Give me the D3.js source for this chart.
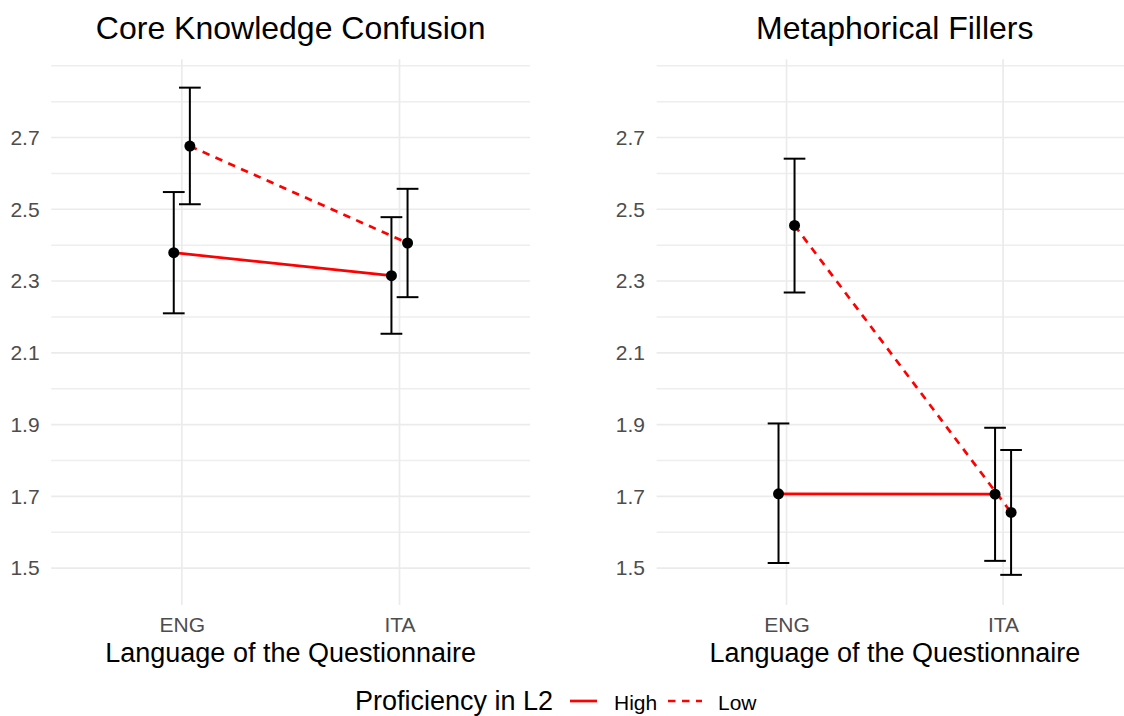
<!DOCTYPE html>
<html>
<head>
<meta charset="utf-8">
<script src="https://cdn.jsdelivr.net/npm/d3@7"></script>
<style>
  html, body { margin: 0; padding: 0; background: #fff; }
  text { font-family: "Liberation Sans", Arial, sans-serif; }
</style>
</head>
<body>
<script>
// ---------- data ----------
const panelTitles = ["Core Knowledge Confusion", "Metaphorical Fillers"];
const languages = ["ENG", "ITA"];
const proficiency = ["High", "Low"];

// Core Knowledge Confusion
const coreHighMean  = [2.379, 2.315];
const coreHighLower = [2.210, 2.153];
const coreHighUpper = [2.548, 2.478];
const coreLowMean   = [2.676, 2.406];
const coreLowLower  = [2.514, 2.255];
const coreLowUpper  = [2.839, 2.557];

// Metaphorical Fillers
const metHighMean  = [1.707, 1.706];
const metHighLower = [1.514, 1.520];
const metHighUpper = [1.903, 1.891];
const metLowMean   = [2.455, 1.655];
const metLowLower  = [2.268, 1.481];
const metLowUpper  = [2.641, 1.829];

const yTickValues  = [1.5, 1.7, 1.9, 2.1, 2.3, 2.5, 2.7];
const yMinorValues = [1.6, 1.8, 2.0, 2.2, 2.4, 2.6, 2.8, 2.9];

const xAxisTitle = "Language of the Questionnaire";
const legendTitle = "Proficiency in L2";

// ---------- build ----------
const panelData = [
  { title: panelTitles[0], series: [
    { prof: proficiency[0], mean: coreHighMean, lower: coreHighLower, upper: coreHighUpper },
    { prof: proficiency[1], mean: coreLowMean,  lower: coreLowLower,  upper: coreLowUpper }
  ]},
  { title: panelTitles[1], series: [
    { prof: proficiency[0], mean: metHighMean, lower: metHighLower, upper: metHighUpper },
    { prof: proficiency[1], mean: metLowMean,  lower: metLowLower,  upper: metLowUpper }
  ]}
];

const W = 1124, H = 716;
const svg = d3.select("body").append("svg")
  .attr("width", W).attr("height", H)
  .style("display", "block");
svg.append("rect").attr("width", W).attr("height", H).attr("fill", "#fff");

const panelBoxes = [{ x0: 51.2, x1: 530.1 }, { x0: 656.6, x1: 1133 }];
const yTop = 59.3, yBot = 605;
const y = d3.scaleLinear().domain([1.397, 2.918]).range([yBot, yTop]);

const dodge = 0.037, capHalf = 0.05;
const dashPattern = { High: null, Low: "7.5,6.5" };
const red = "#ff0000";

panelData.forEach((panel, pi) => {
  const box = panelBoxes[pi];
  const x = d3.scaleLinear().domain([0.4, 2.6]).range([box.x0, box.x1]);
  const g = svg.append("g");

  // grid
  g.selectAll(".minor").data(yMinorValues).join("line")
    .attr("x1", box.x0).attr("x2", box.x1)
    .attr("y1", d => y(d)).attr("y2", d => y(d))
    .attr("stroke", "#eeeeee").attr("stroke-width", 1.5);
  g.selectAll(".major").data(yTickValues).join("line")
    .attr("x1", box.x0).attr("x2", box.x1)
    .attr("y1", d => y(d)).attr("y2", d => y(d))
    .attr("stroke", "#ebebeb").attr("stroke-width", 1.7);
  g.selectAll(".vgrid").data([1, 2]).join("line")
    .attr("x1", d => x(d)).attr("x2", d => x(d))
    .attr("y1", yTop).attr("y2", yBot)
    .attr("stroke", "#ebebeb").attr("stroke-width", 1.7);

  // axes
  const yAxis = g.append("g").attr("transform", `translate(${box.x0},0)`)
    .call(d3.axisLeft(y).tickValues(yTickValues).tickFormat(d3.format(".1f")).tickSize(0).tickPadding(11.6));
  yAxis.select(".domain").remove();
  yAxis.selectAll("text").attr("font-size", 21).attr("fill", "#4d4d4d")
    .style("font-family", '"Liberation Sans", Arial, sans-serif');

  const xAxis = g.append("g").attr("transform", `translate(0,${yBot})`)
    .call(d3.axisBottom(x).tickValues([1, 2]).tickFormat(d => languages[d - 1]).tickSize(0).tickPadding(11.7));
  xAxis.select(".domain").remove();
  xAxis.selectAll("text").attr("font-size", 21).attr("fill", "#4d4d4d")
    .style("font-family", '"Liberation Sans", Arial, sans-serif');

  // titles
  const cx = (box.x0 + box.x1) / 2;
  g.append("text").attr("x", cx).attr("y", 39).attr("text-anchor", "middle")
    .attr("font-size", 32).attr("fill", "#000").text(panel.title);
  g.append("text").attr("x", cx).attr("y", 662).attr("text-anchor", "middle")
    .attr("font-size", 27).attr("fill", "#000").text(xAxisTitle);

  // marks
  panel.series.forEach((s, si) => {
    const off = si === 0 ? -dodge : dodge;
    const pts = s.mean.map((m, j) => ({ xi: j + 1 + off, m, lo: s.lower[j], hi: s.upper[j] }));
    g.append("path").datum(pts)
      .attr("d", d3.line().x(d => x(d.xi)).y(d => y(d.m)))
      .attr("fill", "none").attr("stroke", red).attr("stroke-width", 2.7)
      .attr("stroke-dasharray", dashPattern[s.prof]);
  });
  panel.series.forEach((s, si) => {
    const off = si === 0 ? -dodge : dodge;
    const pts = s.mean.map((m, j) => ({ xi: j + 1 + off, m, lo: s.lower[j], hi: s.upper[j] }));
    const eb = g.append("g").attr("stroke", "#000").attr("stroke-width", 2).attr("fill", "none");
    eb.selectAll(".v").data(pts).join("line")
      .attr("x1", d => x(d.xi)).attr("x2", d => x(d.xi))
      .attr("y1", d => y(d.lo)).attr("y2", d => y(d.hi));
    eb.selectAll(".ct").data(pts).join("line")
      .attr("x1", d => x(d.xi - capHalf)).attr("x2", d => x(d.xi + capHalf))
      .attr("y1", d => y(d.hi)).attr("y2", d => y(d.hi));
    eb.selectAll(".cb").data(pts).join("line")
      .attr("x1", d => x(d.xi - capHalf)).attr("x2", d => x(d.xi + capHalf))
      .attr("y1", d => y(d.lo)).attr("y2", d => y(d.lo));
    g.selectAll(null).data(pts).join("circle")
      .attr("cx", d => x(d.xi)).attr("cy", d => y(d.m)).attr("r", 5.5).attr("fill", "#000");
  });
});

// legend
const lg = svg.append("g");
lg.append("text").attr("x", 355).attr("y", 709.5).attr("font-size", 27).attr("fill", "#000").text(legendTitle);
const legendItems = [
  { prof: proficiency[0], lx0: 570, lx1: 597, tx: 614 },
  { prof: proficiency[1], lx0: 668, lx1: 702, tx: 718 }
];
legendItems.forEach(it => {
  lg.append("line").attr("x1", it.lx0).attr("x2", it.lx1).attr("y1", 701).attr("y2", 701)
    .attr("stroke", red).attr("stroke-width", 2.7).attr("stroke-dasharray", dashPattern[it.prof]);
  lg.append("text").attr("x", it.tx).attr("y", 709.5).attr("font-size", 21).attr("fill", "#000").text(it.prof);
});
</script>
</body>
</html>
